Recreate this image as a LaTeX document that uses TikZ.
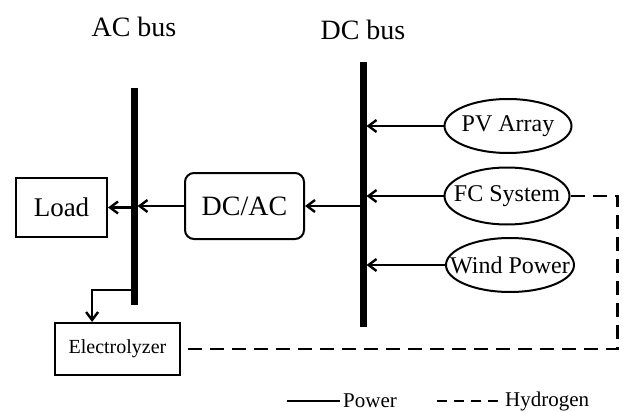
\documentclass[tikz,border=0pt]{standalone}
\usepackage{fontspec}
\setmainfont{Liberation Serif}
\usetikzlibrary{arrows.meta,positioning,shapes.geometric,calc}

\begin{document}
\begin{tikzpicture}[x=1pt,y=-1pt,>={Straight Barb[length=8pt,width=12pt,line width=2.4pt]},line width=2.4pt,
  every node/.style={font=\fontsize{24}{28}\selectfont,align=center},
  bus/.style={line width=7pt},
  buslbl/.style={anchor=base,font=\fontsize{28}{32}\selectfont},
  blk/.style={draw,line width=2pt,inner sep=0pt},
  src/.style={draw,ellipse,line width=2pt,minimum width=127pt,minimum height=54pt,inner sep=0pt},
  h2/.style={dash pattern=on 14pt off 8pt}]
\useasboundingbox (0,0) rectangle (622,412);
% buses
\coordinate (acT) at (134,88); \coordinate (acB) at (134,305);
\coordinate (dcT) at (363,62); \coordinate (dcB) at (363,327);
\draw[bus] (acT) -- (acB);
\draw[bus] (dcT) -- (dcB);
\node[buslbl] (aclbl) at (134,37) {AC bus};
\node[buslbl] (dclbl) at (363,40) {DC bus};
% blocks
\node[blk,minimum width=91pt,minimum height=59pt,font=\fontsize{27}{30}\selectfont] (load) at (61.5,207.5) {Load};
\node[blk,rounded corners=9pt,minimum width=119pt,minimum height=66pt,font=\fontsize{28}{30}\selectfont] (dcac) at (244.5,206) {DC/AC};
\node[blk,minimum width=125pt,minimum height=52pt,font=\fontsize{20}{24}\selectfont] (elec) at (117.5,349) {Electrolyzer};
\node[src,label=center:PV Array] (pv) at (508,126) {};
\node[src,minimum width=125pt,minimum height=57pt,label=center:FC System] (fc) at (507,196) {};
\node[src,minimum width=128pt,label=center:Wind Power] (wind) at (510,265) {};
% power flow
\draw[->,shorten >=3.5pt] (pv) -- (pv -| dcT);
\draw[->,shorten >=3.5pt] (fc) -- (fc -| dcT);
\draw[->,shorten >=3.5pt] (wind) -- (wind -| dcT);
\draw[->] (dcac -| dcT) -- (dcac);
\draw[->,shorten >=3.5pt] (dcac) -- (dcac -| acT);
\draw[->] (load -| acT) -- (load);
\coordinate (tap) at (134,290);
\draw[->] (tap) -| ($(elec.north west)!0.3!(elec.north east)$);
% hydrogen
\draw[h2] (fc.east) -- ++(47,0) |- (elec.east);
% legend
\coordinate (lgP) at (287,401); \coordinate (lgH) at (437,401);
\draw (lgP) -- ++(53,0) node[right,inner sep=2pt,font=\fontsize{21}{24}\selectfont] (lgPlbl) {Power};
\draw[dash pattern=on 10pt off 7pt] (lgH) -- ++(63,0) node[right,inner sep=4pt,font=\fontsize{21}{24}\selectfont] (lgHlbl) {Hydrogen};
\end{tikzpicture}
\end{document}
